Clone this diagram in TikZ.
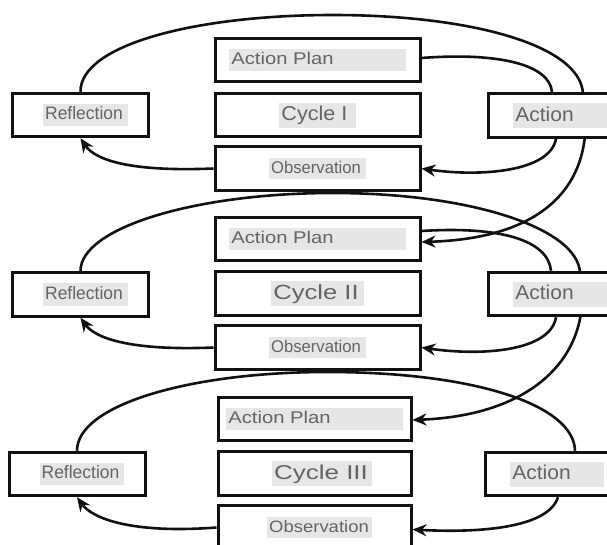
\documentclass[tikz,border=0pt]{standalone}
\usepackage{fontspec}
\setmainfont{Liberation Sans}
\usepackage{xcolor}
\usepackage{graphicx}
\usepackage{tikz}
\usetikzlibrary{arrows.meta, backgrounds}
\definecolor{Ink}{HTML}{111111}
\definecolor{Muted}{HTML}{646464}
\definecolor{Shade}{HTML}{E6E6E6}
\setlength{\fboxsep}{2pt}
% grey marker behind a label: [right pad]{horizontal stretch}{text}
\newcommand{\hltext}[3][0pt]{\colorbox{Shade}{\rule[-0.25em]{0pt}{1.05em}\scalebox{#2}[1]{#3}\hspace*{#1}}}

\begin{document}
\begin{tikzpicture}[x=1pt, y=-1pt,
  box/.style={draw=Ink, line width=3pt, fill=white, inner sep=0pt, minimum height=43.5pt, text=Muted},
  mid/.style={box, minimum width=205pt},
  side/.style={box, minimum width=136pt},
  planbox/.style={mid, font=\fontsize{17}{20}\selectfont},
  cyclebox/.style={mid, font=\fontsize{20}{24}\selectfont},
  obsbox/.style={mid, font=\fontsize{17}{20}\selectfont},
  reflbox/.style={side, font=\fontsize{18}{22}\selectfont},
  actbox/.style={side, font=\fontsize{20}{24}\selectfont},
  link/.style={draw=Ink, line width=2.6pt},
  arrow/.style={link, -{Stealth[length=14pt, width=12pt]}}
]
\useasboundingbox (0,0) rectangle (607,544);

% cycle I
\node[planbox] (plan1) at (317.5,60) {\hltext[70pt]{1.19}{Action Plan}};
\node[cyclebox] (cyc1) at (317.5,115) {\hltext[6pt]{1.08}{Cycle I}};
\node[obsbox] (obs1) at (317.5,168.5) {\hltext[3pt]{0.98}{Observation}};
\node[reflbox] (refl1) at (80.5,115) {\hspace*{10pt}\hltext[3pt]{0.97}{Reflection}};
\node[actbox] (act1) at (556,115.5) {\hspace*{8pt}\hltext[31pt]{1.05}{Action}};

% cycle II
\node[planbox] (plan2) at (317.5,239) {\hltext[70pt]{1.19}{Action Plan}};
\node[cyclebox, font=\fontsize{20.5}{24}\selectfont] (cyc2) at (317.5,293.5) {\hltext[3pt]{1.25}{Cycle II}};
\node[obsbox] (obs2) at (317.5,347.5) {\hltext[3pt]{0.98}{Observation}};
\node[reflbox] (refl2) at (80.5,294.5) {\hspace*{10pt}\hltext[3pt]{0.97}{Reflection}};
\node[actbox] (act2) at (556,294) {\hspace*{8pt}\hltext[31pt]{1.05}{Action}};

% cycle III
\node[planbox, minimum width=193pt] (plan3) at (314.5,419) {\hltext[70pt]{1.19}{Action Plan}};
\node[cyclebox, minimum width=193pt] (cyc3) at (314.5,473.5) {\hspace*{15pt}\hltext[2pt]{1.3}{Cycle III}};
\node[obsbox, minimum width=193pt, font=\fontsize{16.5}{20}\selectfont] (obs3) at (314.5,527.5) {\hspace*{10pt}\hltext[1pt]{1.12}{Observation}};
\node[reflbox] (refl3) at (77,474) {\hspace*{10pt}\hltext[3pt]{0.97}{Reflection}};
\node[actbox] (act3) at (553,474) {\hspace*{8pt}\hltext[31pt]{1.05}{Action}};

\begin{pgfonlayer}{background}
\draw[arrow] (refl1.north) .. controls (80,45) and (195,15) .. (333,15) .. controls (470,15) and (581,45) .. (583,94) .. controls (597,175) and (555,238) .. ([yshift=-3pt]plan2.east);
\draw[link] ([yshift=2pt]plan1.east) .. controls (500,52) and (550,65) .. ([xshift=-4pt]act1.north);
\draw[arrow] (act1.south) .. controls (550,172) and (480,177) .. (obs1.east);
\draw[arrow] (obs1.west) .. controls (130,172) and (95,160) .. (refl1.south);

\draw[arrow] (refl2.north) .. controls (80,228) and (195,193) .. (333,193) .. controls (470,193) and (578,228) .. (580,273) .. controls (594,350) and (540,415) .. ([yshift=-1pt]plan3.east);
\draw[link] ([yshift=8pt]plan2.east) .. controls (500,226) and (548,240) .. ([xshift=-5pt]act2.north);
\draw[arrow] (act2.south) .. controls (550,352) and (480,356) .. (obs2.east);
\draw[arrow] (obs2.west) .. controls (130,351) and (95,338) .. (refl2.south);

\draw[link] (refl3.north) .. controls (77,405) and (190,372) .. (327,372) .. controls (475,372) and (574,405) .. ([xshift=22pt]act3.north);
\draw[arrow] ([xshift=5pt]act3.south) .. controls (548,528) and (480,533) .. ([yshift=-2pt]obs3.east);
\draw[arrow] (obs3.west) .. controls (130,534) and (92,518) .. (refl3.south);
\end{pgfonlayer}
\end{tikzpicture}
\end{document}
